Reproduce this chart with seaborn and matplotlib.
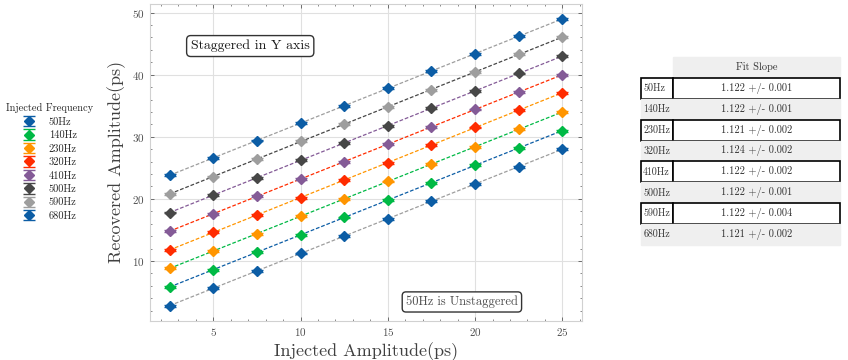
import numpy as np
import pandas as pd
import matplotlib
matplotlib.use("Agg")
import matplotlib.pyplot as plt
import seaborn as sns

# ---- data ----
injected = [2.5, 5.0, 7.5, 10.0, 12.5, 15.0, 17.5, 20.0, 22.5, 25.0]
freqs = ["50Hz", "140Hz", "230Hz", "320Hz", "410Hz", "500Hz", "590Hz", "680Hz"]
rec_50 = [2.8, 5.6, 8.4, 11.2, 14.0, 16.8, 19.6, 22.4, 25.2, 28.0]
rec_140 = [5.8, 8.6, 11.4, 14.2, 17.0, 19.8, 22.6, 25.4, 28.2, 31.0]
rec_230 = [8.8, 11.6, 14.4, 17.2, 20.0, 22.8, 25.6, 28.4, 31.2, 34.0]
rec_320 = [11.8, 14.6, 17.4, 20.2, 23.0, 25.8, 28.7, 31.5, 34.3, 37.1]
rec_410 = [14.8, 17.6, 20.4, 23.2, 26.0, 28.8, 31.6, 34.4, 37.2, 40.0]
rec_500 = [17.8, 20.6, 23.4, 26.2, 29.0, 31.8, 34.6, 37.4, 40.2, 43.0]
rec_590 = [20.8, 23.6, 26.4, 29.3, 32.0, 34.8, 37.6, 40.4, 43.3, 46.1]
rec_680 = [23.8, 26.6, 29.4, 32.2, 35.0, 37.8, 40.6, 43.4, 46.2, 49.0]
rec_err = [0.15] * 10
slopes = ["1.122 +/- 0.001", "1.122 +/- 0.001", "1.121 +/- 0.002", "1.124 +/- 0.002",
          "1.122 +/- 0.002", "1.122 +/- 0.001", "1.122 +/- 0.004", "1.121 +/- 0.002"]

series = [rec_50, rec_140, rec_230, rec_320, rec_410, rec_500, rec_590, rec_680]
palette = ['#0C5DA5', '#00B945', '#FF9500', '#FF2C00', '#845B97', '#474747', '#9e9e9e']

sns.set_style("whitegrid", {
    "xtick.direction": "in", "ytick.direction": "in",
    "xtick.top": True, "ytick.right": True,
    "xtick.bottom": True, "ytick.left": True,
    "axes.edgecolor": ".82", "grid.color": ".88",
})
plt.rcParams["font.family"] = ["cmr10", "DejaVu Serif"]
plt.rcParams["axes.formatter.use_mathtext"] = True
plt.rcParams["xtick.minor.visible"] = True
plt.rcParams["ytick.minor.visible"] = True
plt.rcParams["xtick.color"] = ".35"
plt.rcParams["ytick.color"] = ".35"
plt.rcParams["xtick.labelcolor"] = ".3"
plt.rcParams["ytick.labelcolor"] = ".3"

fig = plt.figure(figsize=(8.48, 3.6), dpi=100)
ax = fig.add_axes([150 / 848, 1 - 321 / 360, 432 / 848, 317.5 / 360])

rows = []
for f, ys in zip(freqs, series):
    for x, y, e in zip(injected, ys, rec_err):
        rows.append({"freq": f, "inj": x, "rec": y, "err": e})
df = pd.DataFrame(rows)

handles = []
for i, f in enumerate(freqs):
    sub = df[df["freq"] == f]
    col = palette[i % len(palette)]
    line_col = palette[(i - 1) % len(palette)]
    k, b = np.polyfit(sub["inj"], sub["rec"], 1)
    fit = pd.DataFrame({"inj": sub["inj"], "fit": k * sub["inj"] + b})
    sns.lineplot(data=fit, x="inj", y="fit", ax=ax, color=line_col, lw=0.9,
                 linestyle=(0, (3, 1.5)), zorder=2, legend=False)
    h = ax.errorbar(sub["inj"], sub["rec"], yerr=sub["err"], fmt="D", color=col,
                    ms=5.2, capsize=4, elinewidth=1, capthick=1, zorder=3, label=f)
    handles.append(h)
if ax.get_legend() is not None:
    ax.get_legend().remove()

ax.set_xticks([5, 10, 15, 20, 25])
ax.set_yticks([10, 20, 30, 40, 50])
ax.xaxis.set_minor_locator(matplotlib.ticker.MultipleLocator(1))
ax.yaxis.set_minor_locator(matplotlib.ticker.MultipleLocator(2))
ax.tick_params(which="major", length=3, width=0.6, labelsize=8)
ax.tick_params(which="minor", length=1.5, width=0.5)
ax.set_xlabel("Injected Amplitude(ps)", fontsize=13, color=".25", labelpad=3)
ax.set_ylabel("Recovered Amplitude(ps)", fontsize=13, color=".25", labelpad=5)
for s in ax.spines.values():
    s.set_linewidth(0.8)

box = dict(boxstyle="round,pad=0.3", facecolor="white", edgecolor="0.2", lw=1)
ax.text(0.232, 0.866, "Staggered in Y axis", transform=ax.transAxes, fontsize=10,
        ha="center", va="center", bbox=box, color="0.1")
ax.text(0.722, 0.06, "50Hz is Unstaggered", transform=ax.transAxes, fontsize=9,
        ha="center", va="center", bbox=box, color="0.3")

fig.legend(handles=handles, labels=freqs, title="Injected Frequency",
           loc="upper left", bbox_to_anchor=(0.0, 1 - 97 / 360), frameon=False,
           fontsize=7.5, title_fontsize=7.5, handlelength=1.2, labelspacing=0.38,
           handletextpad=1.3, borderaxespad=0.2)

# ---- table ----
tax = fig.add_axes([641 / 848, 1 - 245 / 360, 199 / 848, 188 / 360])
tax.axis("off")
cell_text = [[f, s] for f, s in zip(freqs, slopes)]
w0, w1 = 32 / 199, 167 / 199
tbl = tax.table(cellText=cell_text, colLabels=["", "Fit Slope"],
                colWidths=[w0, w1], cellLoc="center", bbox=[0, 0, 1, 1])
tbl.auto_set_font_size(False)
tbl.set_fontsize(7.5)
gray = "#efefef"
for (r, c), cell in tbl.get_celld().items():
    cell.get_text().set_color("0.2")
    cell.set_width(w0 if c == 0 else w1)
    if c == 0:
        cell.set_text_props(ha="left", fontsize=7.2)
        cell._loc = "left"
        cell.PAD = 0.07
    if r == 0:
        cell.set_facecolor("white" if c == 0 else gray)
        cell.set_edgecolor("white" if c == 0 else gray)
    else:
        if (r - 1) % 2 == 0:
            cell.set_facecolor("white")
            cell.set_edgecolor("black")
            cell.set_linewidth(1.2)
        else:
            cell.set_facecolor(gray)
            cell.set_edgecolor(gray)
tbl.set_zorder(5)

fig.savefig("out.png", dpi=100)
